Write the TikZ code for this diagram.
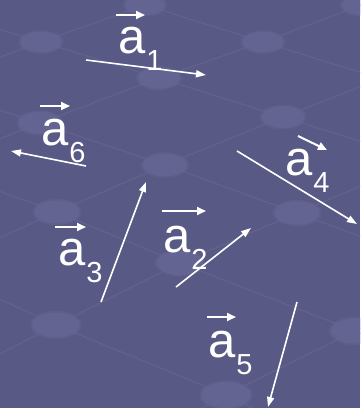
\documentclass[tikz,border=0pt]{standalone}
\usepackage{fontspec}
\setmainfont{Liberation Sans}
\usetikzlibrary{arrows.meta}
\definecolor{bg}{RGB}{89,89,133}
\definecolor{gridc}{RGB}{98,98,141}
\definecolor{ellc}{RGB}{100,100,146}
\newcommand\vlab[1]{a\kern1pt\raisebox{-17pt}{\fontsize{29}{29}\selectfont #1}}
\tikzset{
  gridline/.style={gridc, line width=1.1pt},
  vec/.style={white, line width=1.6pt, -{Triangle[length=10pt,width=7pt]}},
  over/.style={white, line width=2pt, -{Triangle[length=9pt,width=8pt]}},
  lbl/.style={white, inner sep=0pt, anchor=base west, font=\fontsize{49}{49}\selectfont}
}
\begin{document}
\begin{tikzpicture}[x=1pt, y=-1pt]
\fill[bg] (0,0) rectangle (360,408);
\useasboundingbox (0,0) rectangle (360,408);
\begin{scope}
\clip (0,0) rectangle (360,408);
% rows (down-right)
\draw[gridline] (244,-32) -- (362,5) -- (480,42);
\draw[gridline] (27,-32) -- (145,5) -- (263,42) -- (385,80);
\draw[gridline] (-77,6) -- (41,42) -- (159,78) -- (283,117) -- (410,157);
\draw[gridline] (-80,85) -- (40,123) -- (165,165) -- (297,213) -- (430,262);
\draw[gridline] (-70,166) -- (57,212) -- (180,263) -- (355,331) -- (440,368);
\draw[gridline] (-68,268) -- (56,325) -- (226,395) -- (400,480);
% columns (up-right)
\draw[gridline] (-63,80) -- (41,42) -- (145,5) -- (250,-33);
\draw[gridline] (-70,166) -- (40,123) -- (159,78) -- (263,42) -- (362,5) -- (460,-30);
\draw[gridline] (-68,268) -- (57,212) -- (165,165) -- (283,117) -- (390,75);
\draw[gridline] (-80,395) -- (56,325) -- (180,263) -- (297,213) -- (410,165);
\draw[gridline] (95,465) -- (226,395) -- (355,331) -- (480,270);
% ellipses
\foreach \ex/\ey in {145/5,362/5,41/42,263/42,159/78,283/117,40/123,165/165,57/212,297/213,180/263,56/325,355/331,226/395}{
  \fill[ellc, opacity=0.5] (\ex,\ey) ellipse [x radius={(22+0.012*\ey)*1pt}, y radius={(11.5+0.008*\ey)*1pt}];
  \fill[ellc] (\ex,\ey) ellipse [x radius={(20+0.012*\ey)*1pt}, y radius={(10+0.008*\ey)*1pt}];
}
\end{scope}
% vectors
\coordinate (v1s) at (86,60);   \coordinate (v1e) at (206,75);
\coordinate (v2s) at (176,287); \coordinate (v2e) at (251,228);
\coordinate (v3s) at (101,302); \coordinate (v3e) at (146,182);
\coordinate (v4s) at (237,151); \coordinate (v4e) at (357,224);
\coordinate (v5s) at (297,302); \coordinate (v5e) at (268,407);
\coordinate (v6s) at (86,166);  \coordinate (v6e) at (11,151);
\draw[vec] (v1s) -- (v1e);
\draw[vec] (v2s) -- (v2e);
\draw[vec] (v3s) -- (v3e);
\draw[vec] (v4s) -- (v4e);
\draw[vec] (v5s) -- (v5e);
\draw[vec] (v6s) -- (v6e);
% labels
\node[lbl] (l1) at (118,53) {\vlab{1}};
\node[lbl] (l2) at (163,252) {\vlab{2}};
\node[lbl] (l3) at (58,265) {\vlab{3}};
\node[lbl] (l4) at (285,175) {\vlab{4}};
\node[lbl] (l5) at (208,357) {\vlab{5}};
\node[lbl] (l6) at (41,145) {\vlab{6}};
\draw[over] ([shift={(-2,-38)}]l1.base west) -- ++(29,0);
\draw[over] ([shift={(-1,-41)}]l2.base west) -- ++(44,0);
\draw[over] ([shift={(-3,-38)}]l3.base west) -- ++(31,0);
\draw[over] ([shift={(13,-39)}]l4.base west) -- ++(29,14);
\draw[over] ([shift={(-1,-40)}]l5.base west) -- ++(29,0);
\draw[over] ([shift={(-1,-39)}]l6.base west) -- ++(30,0);
\end{tikzpicture}
\end{document}
